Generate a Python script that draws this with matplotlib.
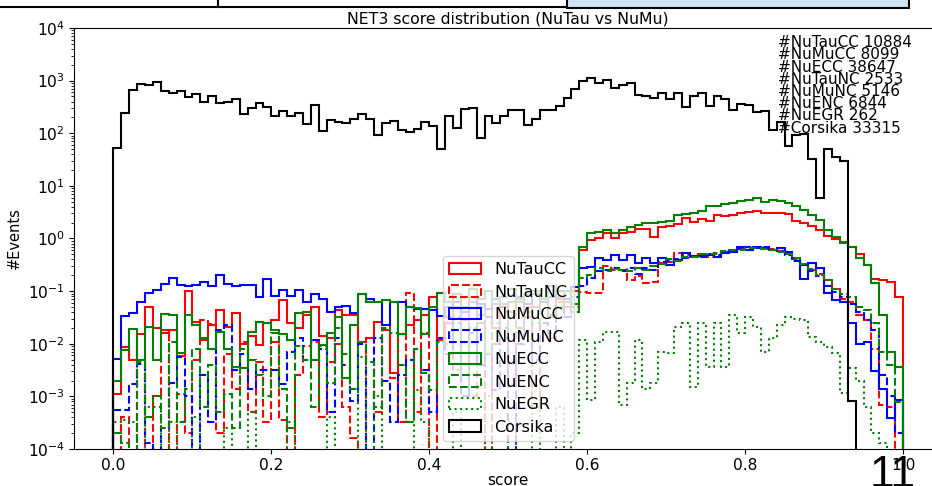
import numpy as np
import matplotlib
matplotlib.use("Agg")
import matplotlib.pyplot as plt
from matplotlib.patches import Rectangle
from matplotlib.lines import Line2D

# bin contents, 100 bins of width 0.01 on [0, 1]
nutau_cc = [1.1e-3, 8.5e-3, 5.0e-3, 1.55e-2, 5.1e-2, 1.95e-2, 1.6e-2, 1.8e-2, 5.9e-3, 1.0e-1,
            2.6e-2, 1.2e-2, 2.3e-2, 4.3e-2, 2.1e-2, 3.9e-2, 1.0e-2, 1.4e-2, 9.5e-3, 2.5e-2,
            2.8e-2, 6.8e-2, 2.5e-2, 2.0e-2, 3.5e-2, 5.1e-2, 1.4e-2, 1.3e-2, 4.4e-2, 3.5e-2,
            3.5e-2, 1.1e-2, 1.3e-2, 2.6e-2, 2.3e-2, 2.8e-3, 1.5e-2, 2.3e-2, 2.8e-2, 3.5e-2,
            7.6e-2, 1.2e-2, 2.5e-2, 5.0e-2, 2.8e-2, 6.3e-2, 3.5e-2, 4.5e-2, 2.0e-2, 5.6e-2,
            4.0e-2, 7.1e-2, 3.2e-2, 5.0e-2, 6.3e-2, 3.5e-2, 7.1e-2, 5.0e-2, 1.0e-1, 0.60,
            0.93, 1.0, 1.29, 1.0, 1.26, 1.35, 1.5, 1.5, 1.09, 1.62,
            1.74, 1.9, 2.4, 2.09, 2.32, 2.19, 2.82, 2.63, 2.82, 3.09,
            3.24, 3.31, 3.02, 3.09, 3.09, 2.95, 2.19, 1.95, 1.70, 1.45,
            1.12, 0.97, 0.81, 0.70, 0.51, 0.32, 0.17, 0.166, 0.15, 0.078]
nutau_nc = [0, 4.1e-4, 0, 4.5e-3, 0, 1.0e-3, 1.8e-2, 0, 1.1e-3, 2.0e-4,
            5.0e-3, 2.8e-2, 2.4e-2, 2.0e-4, 6.3e-3, 1.4e-3, 1.1e-2, 5.0e-4, 4.5e-3, 3.2e-4,
            1.1e-2, 3.5e-4, 0, 2.5e-3, 8.9e-3, 1.1e-2, 4.0e-4, 4.5e-3, 1.0e-2, 6.3e-4,
            1.6e-4, 0, 1.3e-2, 5.0e-4, 1.8e-2, 2.2e-3, 3.2e-4, 9.1e-2, 5.0e-4, 1.6e-2,
            0, 1.3e-2, 3.2e-2, 3.2e-3, 7.9e-2, 1.0e-3, 2.5e-2, 0, 1.0e-2, 4.0e-2,
            1.6e-3, 2.0e-2, 5.0e-2, 6.3e-4, 2.5e-2, 1.3e-2, 6.3e-2, 3.2e-2, 5.0e-2, 9.5e-2,
            9.1e-2, 9.1e-2, 0.30, 0.25, 0.25, 0.16, 0.19, 0.145, 0.15, 0.34,
            0.35, 0.52, 0.49, 0.45, 0.50, 0.45, 0.50, 0.52, 0.56, 0.63,
            0.60, 0.66, 0.63, 0.62, 0.58, 0.50, 0.40, 0.32, 0.25, 0.21,
            0.16, 0.11, 7.1e-2, 6.3e-2, 3.5e-2, 2.8e-2, 8.1e-3, 6.8e-4, 6.3e-4, 0]
numu_cc = [5.2e-3, 3.3e-2, 3.8e-2, 6.3e-2, 9.1e-2, 0.105, 0.138, 0.174, 0.132, 0.126,
           0.132, 0.151, 0.123, 0.204, 0.138, 0.123, 0.132, 0.132, 7.9e-2, 0.17,
           8.1e-2, 0.105, 8.1e-2, 0.107, 6.3e-2, 8.9e-2, 7.2e-2, 4.1e-2, 5.1e-2, 5.2e-2,
           3.9e-2, 8.9e-2, 7.2e-2, 6.3e-2, 2.3e-2, 6.3e-2, 6.3e-2, 4.9e-2, 4.6e-2, 4.6e-2,
           4.4e-2, 3.4e-2, 5.0e-2, 6.3e-2, 4.0e-2, 7.9e-2, 5.6e-2, 4.5e-2, 7.1e-2, 5.0e-2,
           6.3e-2, 7.9e-2, 5.6e-2, 8.9e-2, 6.3e-2, 7.9e-2, 0.1, 7.1e-2, 0.12, 0.27,
           0.29, 0.42, 0.39, 0.49, 0.39, 0.49, 0.34, 0.42, 0.34, 0.42,
           0.32, 0.39, 0.52, 0.47, 0.47, 0.49, 0.45, 0.54, 0.56, 0.68,
           0.60, 0.70, 0.65, 0.60, 0.65, 0.56, 0.42, 0.17, 0.34, 0.27,
           9.1e-2, 6.8e-2, 6.3e-2, 2.5e-2, 1.0e-2, 1.1e-2, 3.0e-3, 1.4e-3, 3.8e-4, 8.5e-4]
numu_nc = [5.5e-4, 5.5e-4, 1.7e-3, 4.2e-3, 1.3e-4, 0, 2.5e-4, 1.8e-3, 5.5e-3, 1.0e-3,
           0, 2.5e-3, 3.2e-4, 1.8e-2, 2.3e-2, 3.2e-3, 6.3e-3, 1.4e-3, 3.2e-3, 3.2e-3,
           3.2e-3, 1.7e-3, 7.1e-3, 1.3e-2, 5.0e-3, 1.2e-2, 7.9e-3, 5.0e-4, 1.3e-2, 4.0e-3,
           8.0e-4, 1.0e-2, 0, 1.3e-2, 2.0e-3, 3.2e-4, 2.5e-3, 5.0e-3, 7.9e-3, 3.2e-3,
           5.0e-4, 1.3e-2, 6.3e-3, 2.5e-2, 1.0e-3, 1.6e-2, 4.0e-3, 3.2e-2, 1.3e-3, 2.0e-2,
           0, 1.0e-2, 4.0e-2, 5.0e-3, 2.5e-2, 1.6e-2, 5.0e-2, 3.2e-2, 7.9e-2, 0.126,
           0.178, 0.24, 0.25, 0.28, 0.24, 0.28, 0.21, 0.28, 0.25, 0.35,
           0.38, 0.40, 0.42, 0.47, 0.44, 0.50, 0.48, 0.55, 0.58, 0.63,
           0.68, 0.65, 0.69, 0.60, 0.58, 0.48, 0.38, 0.32, 0.24, 0.19,
           0.126, 9.5e-2, 7.6e-2, 5.6e-2, 4.0e-2, 2.8e-2, 1.8e-2, 2.5e-3, 1.0e-3, 2.0e-4]
nue_cc = [2.0e-3, 7.6e-3, 1.9e-2, 4.9e-3, 2.1e-2, 4.9e-3, 3.7e-2, 3.5e-2, 6.6e-3, 3.5e-2,
          2.3e-2, 1.3e-2, 8.1e-3, 1.7e-2, 8.1e-3, 3.6e-3, 3.4e-3, 1.7e-2, 2.6e-2, 2.5e-2,
          1.8e-2, 1.5e-2, 1.2e-2, 3.8e-2, 4.1e-2, 4.9e-3, 9.5e-3, 1.6e-2, 3.2e-2, 2.2e-3,
          2.3e-2, 8.9e-2, 6.3e-2, 6.3e-2, 6.8e-2, 6.3e-2, 1.5e-2, 5.1e-2, 4.7e-2, 1.5e-2,
          5.1e-2, 9.1e-2, 6.3e-2, 8.9e-2, 5.0e-2, 0.112, 7.1e-2, 0.1, 5.6e-2, 7.9e-2,
          0.112, 6.3e-2, 8.9e-2, 0.1, 7.1e-2, 0.126, 7.9e-2, 0.1, 5.6e-2, 0.70,
          1.26, 1.35, 1.45, 1.29, 1.45, 1.62, 1.82, 1.95, 2.0, 2.09,
          2.19, 2.82, 2.95, 3.09, 3.31, 4.07, 4.17, 4.47, 4.68, 5.25,
          5.37, 5.82, 5.01, 5.37, 5.25, 4.79, 4.07, 3.47, 2.82, 2.24,
          1.45, 1.09, 0.87, 0.68, 0.42, 0.32, 0.14, 3.5e-2, 7.1e-3, 3.6e-3]
nue_nc = [2.0e-4, 1.3e-4, 0, 4.5e-3, 4.0e-4, 1.0e-3, 2.5e-4, 1.1e-2, 3.2e-4, 1.4e-3,
          7.9e-3, 6.3e-4, 4.0e-3, 5.0e-4, 1.1e-3, 2.5e-4, 7.9e-3, 5.0e-3, 2.5e-3, 1.0e-3,
          1.6e-2, 1.4e-3, 2.5e-4, 8.9e-3, 5.0e-3, 6.3e-4, 8.9e-3, 1.8e-3, 2.0e-2, 6.3e-3,
          1.4e-3, 1.1e-2, 4.5e-3, 6.3e-4, 2.0e-2, 1.6e-2, 4.0e-3, 3.2e-4, 7.9e-3, 2.8e-3,
          1.3e-3, 1.1e-2, 1.0e-2, 3.2e-2, 2.5e-3, 2.0e-2, 5.0e-2, 6.3e-3, 2.5e-2, 1.3e-2,
          6.3e-2, 1.6e-2, 4.0e-2, 2.5e-2, 7.9e-2, 3.2e-2, 5.0e-2, 6.3e-2, 4.0e-2, 0.178,
          0.20, 0.28, 0.24, 0.26, 0.25, 0.24, 0.28, 0.25, 0.30, 0.33,
          0.40, 0.38, 0.44, 0.44, 0.50, 0.50, 0.52, 0.58, 0.60, 0.60,
          0.66, 0.66, 0.63, 0.60, 0.56, 0.50, 0.42, 0.33, 0.26, 0.20,
          0.16, 0.11, 8.9e-2, 7.9e-2, 5.0e-2, 4.4e-2, 2.5e-2, 7.1e-3, 4.0e-3, 7.9e-4]
nue_gr = [3.3e-4, 3.5e-4, 3.3e-4, 0, 6.3e-4, 6.3e-4, 0, 3.2e-4, 0, 0,
          4.0e-4, 0, 0, 0, 2.5e-4, 0, 0, 5.0e-4, 0, 0,
          0, 0, 3.2e-4, 0, 0, 0, 0, 4.0e-4, 0, 0,
          0, 5.6e-3, 0, 1.0e-3, 0, 0, 0, 0, 1.3e-3, 3.2e-4,
          0, 0, 0, 5.0e-4, 0, 0, 0, 1.0e-3, 0, 0,
          3.2e-4, 0, 0, 1.6e-3, 0, 0, 6.3e-4, 0, 2.0e-4, 1.2e-2,
          8.5e-4, 1.1e-2, 1.7e-2, 1.7e-2, 6.8e-4, 1.8e-3, 1.2e-2, 1.4e-3, 1.8e-3, 7.1e-3,
          6.6e-3, 2.1e-2, 2.5e-2, 1.5e-3, 2.5e-2, 3.6e-3, 2.5e-2, 3.6e-3, 3.5e-2, 1.6e-2,
          3.2e-2, 2.1e-2, 7.1e-3, 1.3e-2, 2.3e-2, 3.2e-2, 3.0e-2, 2.8e-2, 1.35e-2, 1.1e-2,
          8.7e-3, 6.6e-3, 1.15e-3, 3.4e-3, 2.0e-3, 6.3e-4, 2.0e-4, 1.3e-4, 0, 0]
corsika = [52, 240, 660, 850, 830, 950, 645, 575, 645, 490,
           560, 400, 500, 380, 400, 445, 235, 300, 370, 310,
           215, 270, 215, 240, 150, 345, 112, 178, 166, 158,
           186, 234, 186, 93, 155, 174, 115, 107, 120, 166,
           135, 50, 209, 126, 288, 302, 83, 209, 158, 209,
           275, 282, 145, 186, 275, 275, 324, 468, 692, 1000,
           1120, 912, 1020, 724, 832, 891, 537, 501, 468, 575,
           447, 575, 316, 513, 589, 324, 501, 447, 275, 363,
           347, 257, 269, 115, 166, 58, 93, 98, 32, 5.8,
           50, 35, 30, 8e-4, 0, 0, 0, 0, 0, 0]

labels = ["NuTauCC", "NuTauNC", "NuMuCC", "NuMuNC", "NuECC", "NuENC", "NuEGR", "Corsika"]
series = [nutau_cc, nutau_nc, numu_cc, numu_nc, nue_cc, nue_nc, nue_gr, corsika]
colors = ["red", "red", "blue", "blue", "green", "green", "green", "black"]
styles = ["-", "--", "-", "--", "-", "--", ":", "-"]
counts = ["#NuTauCC 10884", "#NuMuCC 8099", "#NuECC 38647", "#NuTauNC 2533",
          "#NuMuNC 5146", "#NuENC 6844", "#NuEGR 262", "#Corsika 33315"]

edges = np.linspace(0, 1, 101)
centers = 0.5 * (edges[1:] + edges[:-1])

W, H = 932, 486
fig = plt.figure(figsize=(W / 100, H / 100), dpi=100)
ax = fig.add_axes([74 / W, 37 / H, 868.5 / W, 421 / H])

for vals, lab, c, ls in zip(series, labels, colors, styles):
    ax.hist(centers, bins=edges, weights=vals, histtype="step", log=True,
            color=c, linestyle=ls, linewidth=1.5, label=lab)

ax.set_xlim(-0.05, 1.05)
ax.set_ylim(1e-4, 1e4)
ax.set_xlabel("score", fontsize=11, labelpad=0)
ax.set_ylabel("#Events", fontsize=10.5)
ax.set_title("NET3 score distribution (NuTau vs NuMu)", fontsize=11.3, pad=3)
ax.tick_params(labelsize=11.2, pad=3)
ax.legend(loc="lower center", fontsize=11.5, labelspacing=0.47)

for i, t in enumerate(counts):
    ax.text((778 - 74) / 868.5, (449 - 42.7 - 12.2 * i) / 421, t, transform=ax.transAxes,
            fontsize=11, va="center", ha="left")

# slide decoration around the screenshot
fig.add_artist(Line2D([0, 567 / W], [1 - 7 / H] * 2, color="black", lw=1.5))
fig.add_artist(Line2D([218 / W] * 2, [1 - 7 / H, 1], color="black", lw=1.5))
fig.add_artist(Rectangle((567 / W, 1 - 8 / H), (909 - 567) / W, 10 / H, facecolor="#cfe2f3",
                         edgecolor="black", lw=1.5))
fig.text(893 / W, 1 - 455 / H, "11", fontsize=32, family="Liberation Sans", ha="center", va="top")

fig.savefig("out.png", dpi=100)
